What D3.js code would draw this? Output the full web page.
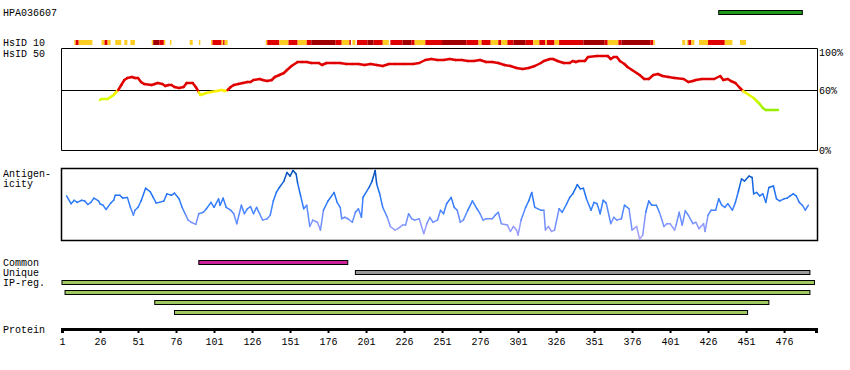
<!DOCTYPE html>
<html>
<head>
<meta charset="utf-8">
<script src="https://cdn.jsdelivr.net/npm/d3@7"></script>
<style>
  body { margin: 0; background: #fff; }
  svg text { font-family: "Liberation Mono", "DejaVu Sans Mono", monospace; font-size: 10px; fill: #000; }
</style>
</head>
<body>
<svg id="canvas" width="850" height="370"></svg>
<script>
// protein length and axis ticks
var proteinLength = 497;
var tickValues = [1, 26, 51, 76, 101, 126, 151, 176, 201, 226, 251, 276, 301, 326, 351, 376, 401, 426, 451, 476];
var simTicks = [0, 60, 100];

// antigen region shown on top (green bar)
var antigenRange = [433, 488];

// HsID 10 strip: [start, end, level] level 1 = low, 2 = mid, 3 = high
var hsid10 = [
  [9,10,1],[10,12,2],[12,21,1],[27,29,1],[29,31,2],[31,33,1],[36,40,1],[42,44,1],[46,49,1],
  [60,61,1],[61,65,3],[65,68,2],[68,69,1],[72,73,1],[85,87,1],[91,92,1],
  [99,100,1],[100,106,2],[106,107,1],[107,108,2],[108,110,1],
  [135,136,1],[136,144,2],[144,150,1],[150,156,2],[156,162,1],[162,165,2],[165,181,3],[181,185,2],
  [185,190,1],[190,191,2],[192,194,1],[195,202,2],[202,206,3],[206,212,2],[212,216,1],[217,225,2],
  [225,231,3],[231,233,2],[233,240,1],[240,251,2],[251,267,3],[267,275,2],[275,277,1],[277,283,2],
  [283,288,1],[288,290,2],[290,294,1],[294,298,2],[298,306,3],[306,311,2],[311,315,1],[315,319,2],
  [319,320,1],[320,325,2],[325,328,1],[328,344,2],[344,358,3],[358,360,2],[360,367,1],[367,369,2],
  [369,388,3],[388,390,2],[390,391,1],
  [409,411,1],[412,413,1],[413,415,2],[415,417,1],[420,426,1],[426,437,2],[437,442,1],[447,451,1]
];

// HsID 50 similarity (%), [residue, value]
var similarity = [
  [26,50],[27,51],[31,51],[33,53],[35,55],[36,57],[38,60],[40,65],[42,70],[44,72],[47,73],[49,72],
  [51,72],[53,68],[55,66],[60,65],[62,66],[64,67],[67,66],[69,64],[71,65],[73,65],[75,63],[78,62],
  [81,63],[83,67],[87,67],[89,63],[91,58],[92,55],[94,56],[96,57],[99,58],[103,59],[106,60],[108,59],
  [110,60],[112,63],[114,65],[117,66],[120,67],[123,68],[125,68],[127,70],[131,71],[133,70],[136,69],
  [139,70],[141,73],[144,75],[147,77],[149,80],[152,84],[156,88],[159,88],[162,88],[165,87],[170,87],
  [172,85],[175,87],[180,87],[184,87],[188,86],[192,86],[196,86],[200,85],[204,86],[208,85],[212,84],
  [216,86],[220,86],[226,86],[232,86],[236,87],[240,90],[244,91],[248,90],[252,90],[256,91],[260,90],
  [264,90],[268,89],[272,89],[276,90],[280,88],[284,88],[288,87],[292,85],[296,84],[300,82],[304,81],
  [308,82],[312,84],[316,87],[318,89],[322,91],[324,91],[327,89],[331,87],[335,87],[337,89],[339,88],
  [341,89],[345,89],[347,93],[353,94],[360,94],[362,91],[364,93],[366,93],[368,89],[371,86],[373,83],
  [376,80],[379,77],[381,75],[384,71],[387,71],[390,75],[393,76],[396,74],[400,73],[404,72],[410,71],
  [413,68],[416,69],[418,70],[422,71],[430,71],[434,74],[436,70],[439,71],[441,69],[444,67],[447,62],
  [449,59],[451,57],[453,55],[456,52],[458,49],[460,46],[462,42],[464,40],[472,40]
];

// antigenicity (0..1), [residue, value]
var antigenicity = [
  [4,.62],[7,.51],[9,.56],[11,.53],[14,.56],[16,.55],[18,.50],[20,.53],[22,.59],[25,.55],[26,.51],[28,.49],
  [30,.43],[33,.52],[35,.56],[36,.63],[39,.63],[41,.59],[44,.60],[46,.46],[48,.35],[49,.42],[51,.46],
  [53,.55],[56,.73],[59,.68],[61,.60],[63,.52],[65,.53],[68,.55],[70,.65],[73,.63],[75,.66],[78,.58],
  [80,.46],[82,.37],[84,.28],[86,.25],[89,.22],[91,.37],[94,.39],[96,.44],[99,.53],[101,.46],[104,.58],
  [105,.49],[107,.59],[109,.46],[112,.42],[114,.37],[116,.23],[119,.49],[121,.37],[123,.44],[125,.47],
  [127,.37],[129,.46],[131,.37],[133,.28],[136,.30],[138,.35],[140,.55],[142,.67],[144,.74],[147,.83],
  [149,.95],[151,.90],[153,.98],[155,.93],[156,.80],[158,.62],[160,.44],[162,.49],[164,.19],[166,.28],
  [169,.25],[171,.14],[173,.42],[176,.55],[180,.67],[182,.53],[184,.46],[185,.30],[187,.32],[189,.30],
  [192,.25],[194,.39],[196,.44],[198,.32],[199,.60],[203,.74],[205,.83],[207,.98],[208,.79],[210,.65],
  [212,.46],[215,.32],[217,.19],[220,.14],[222,.16],[225,.21],[227,.21],[229,.37],[231,.30],[233,.28],
  [236,.30],[239,.09],[241,.23],[243,.32],[245,.25],[248,.28],[250,.42],[252,.37],[254,.51],[257,.60],
  [259,.46],[261,.42],[263,.25],[265,.28],[268,.42],[271,.55],[274,.44],[276,.37],[278,.28],[280,.30],
  [284,.30],[286,.35],[288,.39],[290,.23],[294,.21],[296,.12],[298,.19],[300,.14],[301,.07],[303,.28],
  [306,.46],[308,.55],[310,.67],[312,.46],[316,.42],[318,.42],[319,.14],[321,.19],[323,.12],[325,.14],
  [328,.44],[330,.39],[333,.51],[335,.60],[337,.65],[340,.78],[342,.72],[344,.73],[346,.58],[349,.42],
  [351,.53],[353,.51],[355,.37],[357,.56],[359,.52],[362,.23],[364,.32],[366,.28],[369,.30],[371,.49],
  [374,.44],[376,.14],[379,.19],[381,.01],[383,.07],[385,.39],[387,.55],[389,.49],[392,.49],[394,.39],
  [397,.19],[399,.23],[401,.23],[404,.14],[405,.21],[407,.39],[409,.21],[411,.41],[413,.35],[416,.23],
  [418,.25],[420,.16],[423,.23],[424,.12],[426,.35],[428,.42],[431,.42],[433,.58],[435,.49],[437,.46],
  [439,.51],[442,.42],[444,.53],[446,.69],[448,.86],[450,.83],[453,.90],[455,.88],[456,.65],[458,.67],
  [460,.62],[462,.65],[464,.53],[466,.74],[469,.76],[471,.58],[473,.55],[476,.58],[478,.59],[480,.62],
  [482,.65],[484,.62],[486,.53],[488,.49],[490,.42],[492,.49]
];

// peptide tracks
var commonRange = [91, 189];
var uniqueRange = [194, 493];
var ipRegions = [[1, 496], [3, 493], [62, 466], [75, 452]];

var svg = d3.select("#canvas");

var x = d3.scaleLinear().domain([1, proteinLength]).range([62, 816]);
var ySim = d3.scaleLinear().domain([0, 100]).range([150, 50]);
var yAnt = d3.scaleLinear().domain([0, 1]).range([240, 169]);

var stripColor = {1: "#ffcc22", 2: "#e00000", 3: "#a00000"};
var simColor = function(v) {
  if (v >= 60) return "#e00000";
  return d3.scaleLinear().domain([40, 52, 59.9]).range(["#99ee00", "#ddff00", "#ffee00"])(v);
};
var antColor = d3.scaleLinear()
  .domain([0, 0.2, 0.45, 0.7, 1])
  .range(["#b4a6f8", "#8c98ff", "#3d82ff", "#1a6ff0", "#0048a8"]);

// labels on the left
svg.append("text").attr("x", 3).attr("y", 16).text("HPA036607");
svg.append("text").attr("x", 3).attr("y", 46).text("HsID 10");
svg.append("text").attr("x", 3).attr("y", 57).text("HsID 50");
svg.append("text").attr("x", 3).attr("y", 177).text("Antigen-");
svg.append("text").attr("x", 3).attr("y", 187).text("icity");
svg.append("text").attr("x", 3).attr("y", 266).text("Common");
svg.append("text").attr("x", 3).attr("y", 276).text("Unique");
svg.append("text").attr("x", 3).attr("y", 286).text("IP-reg.");
svg.append("text").attr("x", 3).attr("y", 333).text("Protein");

// antigen bar on top
svg.append("rect")
  .attr("x", x(antigenRange[0])).attr("y", 10.5)
  .attr("width", x(antigenRange[1]) - x(antigenRange[0])).attr("height", 4)
  .attr("fill", "#1a9a1a").attr("stroke", "#000").attr("stroke-width", 1);

// HsID 10 strip
svg.selectAll("rect.strip")
  .data(hsid10)
  .enter()
  .append("rect")
  .attr("class", "strip")
  .attr("x", function(d) { return x(d[0]); })
  .attr("y", 40)
  .attr("width", function(d) { return x(d[1]) - x(d[0]); })
  .attr("height", 5)
  .attr("fill", function(d) { return stripColor[d[2]]; });

// similarity box
svg.append("path")
  .attr("d", "M61.5,48.5H817.5V150.5H61.5Z")
  .attr("fill", "none").attr("stroke", "#000").attr("stroke-width", 1);
svg.append("line")
  .attr("x1", 61.5).attr("x2", 817.5)
  .attr("y1", Math.round(ySim(60)) + 0.5).attr("y2", Math.round(ySim(60)) + 0.5)
  .attr("stroke", "#000");
svg.selectAll("text.simtick")
  .data(simTicks)
  .enter()
  .append("text")
  .attr("class", "simtick")
  .attr("x", 819)
  .attr("y", function(d) { return d === 100 ? 56 : ySim(d) + 4; })
  .text(function(d) { return d + "%"; });

// similarity line, coloured per segment
var simPairs = d3.pairs(similarity);
svg.selectAll("line.sim")
  .data(simPairs)
  .enter()
  .append("line")
  .attr("class", "sim")
  .attr("x1", function(d) { return x(d[0][0]); })
  .attr("y1", function(d) { return ySim(d[0][1]); })
  .attr("x2", function(d) { return x(d[1][0]); })
  .attr("y2", function(d) { return ySim(d[1][1]); })
  .attr("stroke", function(d) { return simColor((d[0][1] + d[1][1]) / 2); })
  .attr("stroke-width", 2.5)
  .attr("stroke-linecap", "round");

// antigenicity box
svg.append("path")
  .attr("d", "M61.5,168.5H817.5V240.5H61.5Z")
  .attr("fill", "none").attr("stroke", "#000").attr("stroke-width", 1.5);

var antPairs = d3.pairs(antigenicity);
svg.selectAll("line.ant")
  .data(antPairs)
  .enter()
  .append("line")
  .attr("class", "ant")
  .attr("x1", function(d) { return x(d[0][0]); })
  .attr("y1", function(d) { return yAnt(d[0][1]); })
  .attr("x2", function(d) { return x(d[1][0]); })
  .attr("y2", function(d) { return yAnt(d[1][1]); })
  .attr("stroke", function(d) { return antColor((d[0][1] + d[1][1]) / 2); })
  .attr("stroke-width", 1.5)
  .attr("stroke-linecap", "round");

// peptide tracks
var tracks = [
  {r: commonRange, y: 260.5, c: "#cc2299"},
  {r: uniqueRange, y: 270.5, c: "#9a9a9a"}
];
ipRegions.forEach(function(r, i) {
  tracks.push({r: r, y: 280.5 + i * 10, c: "#a0c860"});
});
svg.selectAll("rect.track")
  .data(tracks)
  .enter()
  .append("rect")
  .attr("class", "track")
  .attr("x", function(d) { return x(d.r[0]); })
  .attr("y", function(d) { return d.y; })
  .attr("width", function(d) { return x(d.r[1]) - x(d.r[0]); })
  .attr("height", 4)
  .attr("fill", function(d) { return d.c; })
  .attr("stroke", "#000").attr("stroke-width", 1);

// protein axis
var axis = d3.axisBottom(x)
  .tickValues(tickValues)
  .tickSizeInner(4)
  .tickSizeOuter(4)
  .tickPadding(5)
  .tickFormat(d3.format("d"));
var gAxis = svg.append("g")
  .attr("transform", "translate(0,329)")
  .call(axis);
gAxis.select(".domain").attr("stroke-width", 3);
gAxis.selectAll(".tick line").attr("stroke-width", 2);
gAxis.selectAll(".tick text")
  .style("font-family", "Liberation Mono, DejaVu Sans Mono, monospace")
  .style("font-size", "10px");
</script>
</body>
</html>
